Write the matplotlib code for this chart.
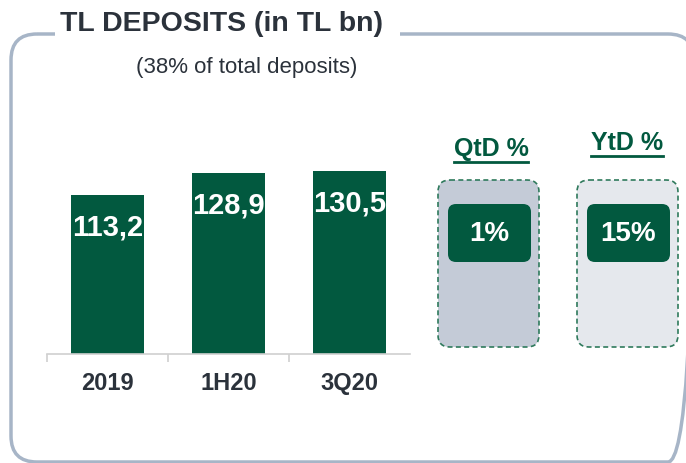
import matplotlib.pyplot as plt
from matplotlib.patches import FancyBboxPatch, Rectangle
from matplotlib.lines import Line2D

# data
categories = ['2019', '1H20', '3Q20']
deposits = [113.2, 128.9, 130.5]
value_labels = ['113,2', '128,9', '130,5']
change_titles = ['QtD %', 'YtD %']
change_values = ['1%', '15%']

GREEN = '#02593f'
FRAME = '#a7b5c7'
DARK = '#2b323b'

plt.rcParams['font.family'] = ['Liberation Sans', 'DejaVu Sans']

W, H = 686, 464
fig = plt.figure(figsize=(W / 100, H / 100), dpi=100)

# overlay axes in pixel coords (y down) for decorations
deco = fig.add_axes([0, 0, 1, 1])
deco.set_xlim(0, W)
deco.set_ylim(H, 0)
deco.axis('off')

# outer frame runs off the right/bottom edge like the slide crop
frame = FancyBboxPatch((11, 35), 683, 428, boxstyle='round,pad=0,rounding_size=26',
                       fill=False, edgecolor=FRAME, linewidth=2.5)
deco.add_patch(frame)
deco.add_patch(Rectangle((55, 25), 345, 20, facecolor='white', edgecolor='none'))

deco.text(222, 24, 'TL DEPOSITS (in TL bn)', ha='center', va='center',
          fontsize=20.5, fontweight='bold', color=DARK)
deco.text(247, 67, '(38% of total deposits)', ha='center', va='center',
          fontsize=16, color=DARK)

# bar chart
ax = fig.add_axes([47 / W, (H - 355) / H, 363 / W, 255 / H])
ax.bar(range(len(categories)), deposits, width=0.6, color=GREEN)
ax.set_xlim(-0.5, 2.5)
ax.set_ylim(0, 181.5)
for i, (v, lab) in enumerate(zip(deposits, value_labels)):
    ax.annotate(lab, (i, v), xytext=(0, -23), textcoords='offset points',
                ha='center', va='center', color='white', fontsize=21, fontweight='bold')
ax.set_xticks(range(len(categories)))
ax.set_xticklabels(categories, fontsize=17, fontweight='bold', color=DARK)
ax.set_xticks([-0.5, 0.5, 1.5], minor=True)
ax.tick_params(axis='x', which='major', length=0, pad=12)
ax.tick_params(axis='x', which='minor', length=6, color='#d0d0d0', width=1.2, direction='out')
ax.set_yticks([])
for s in ['top', 'right', 'left']:
    ax.spines[s].set_visible(False)
ax.spines['bottom'].set_color('#d0d0d0')
ax.spines['bottom'].set_linewidth(1.2)
ax.patch.set_alpha(0)

# QtD / YtD boxes
boxes = [(438, '#c4cbd7', 491, 149), (577, '#e5e8ed', 627, 143)]
head_texts = []
for (x0, fc, hx, hy), title, val in zip(boxes, change_titles, change_values):
    deco.add_patch(FancyBboxPatch((x0, 181), 101, 167, boxstyle='round,pad=0,rounding_size=12',
                                  facecolor=fc, edgecolor='#2f7a5c', linewidth=1.2, linestyle=(0, (3, 2))))
    deco.add_patch(FancyBboxPatch((x0 + 10, 205), 83, 58, boxstyle='round,pad=0,rounding_size=8',
                                  facecolor=GREEN, edgecolor='none'))
    deco.text(x0 + 51.5, 234, val, ha='center', va='center', color='white',
              fontsize=20, fontweight='bold')
    t = deco.text(hx, hy, title, ha='center', va='center', color=GREEN,
                  fontsize=18, fontweight='bold')
    head_texts.append(t)

fig.canvas.draw()
for t in head_texts:
    bb = t.get_window_extent()
    y = H - bb.y0 + 2
    deco.add_line(Line2D([bb.x0, bb.x1], [y, y], color=GREEN, linewidth=2))

fig.savefig('out.png', dpi=100)
